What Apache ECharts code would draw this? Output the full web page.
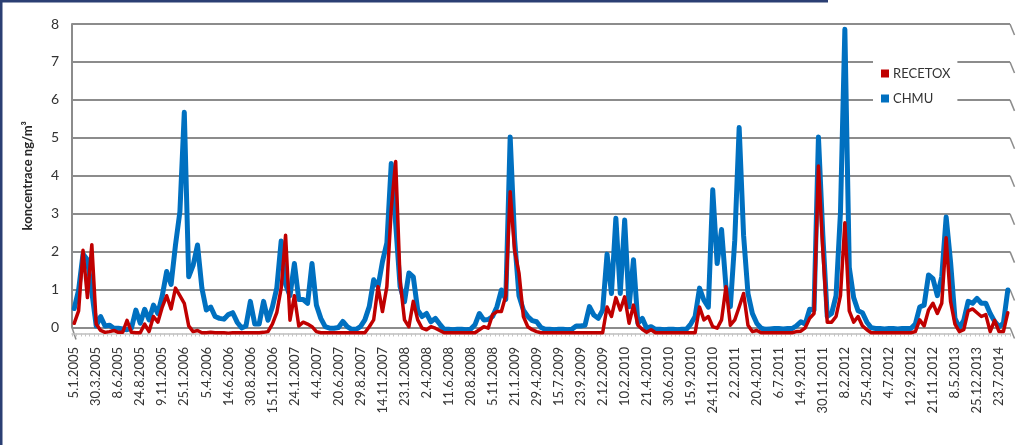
<!DOCTYPE html>
<html>
<head>
<meta charset="utf-8">
<script src="https://cdn.jsdelivr.net/npm/echarts@6/dist/echarts.min.js"></script>
<style>
  html, body { margin: 0; padding: 0; background: #ffffff; }
  #chart { width: 1024px; height: 445px; }
</style>
</head>
<body>
<div id="chart"></div>
<script>
// Tick labels (one every 5 samples on the category axis)
const tickLabels = ['5.1.2005','30.3.2005','8.6.2005','24.8.2005','9.11.2005','25.1.2006','5.4.2006','14.6.2006','30.8.2006','15.11.2006','24.1.2007','4.4.2007','20.6.2007','29.8.2007','14.11.2007','23.1.2008','2.4.2008','11.6.2008','20.8.2008','5.11.2008','21.1.2009','29.4.2009','15.7.2009','23.9.2009','2.12.2009','10.2.2010','21.4.2010','30.6.2010','15.9.2010','24.11.2010','2.2.2011','20.4.2011','6.7.2011','14.9.2011','30.11.2011','8.2.2012','25.4.2012','4.7.2012','12.9.2012','21.11.2012','8.5.2013','25.12.2013','23.7.2014'];

// CHMU concentrations (ng/m3)
const chmu = [
  0.66,1.15,2.1,1.95,1.1,0.2,0.45,0.2,0.22,0.14,
  0.14,0.12,0.1,0.14,0.62,0.27,0.64,0.36,0.75,0.53,
  1.0,1.64,1.3,2.34,3.22,5.85,1.5,1.8,2.34,1.2,
  0.62,0.7,0.45,0.4,0.38,0.5,0.55,0.3,0.15,0.2,
  0.85,0.25,0.25,0.85,0.35,0.7,1.2,2.45,1.3,1.0,
  1.85,0.9,0.9,0.8,1.85,0.75,0.4,0.18,0.14,0.14,
  0.16,0.32,0.18,0.11,0.11,0.18,0.36,0.71,1.42,1.24,
  1.9,2.4,4.5,2.9,1.24,0.84,1.6,1.5,0.62,0.45,
  0.53,0.31,0.4,0.25,0.11,0.11,0.1,0.11,0.11,0.1,
  0.11,0.23,0.53,0.36,0.37,0.45,0.71,1.15,0.9,5.2,
  2.5,1.0,0.62,0.45,0.34,0.31,0.16,0.11,0.11,0.1,
  0.11,0.11,0.1,0.11,0.2,0.2,0.22,0.71,0.49,0.4,
  0.62,2.1,1.06,3.05,1.06,3.0,0.71,1.95,0.27,0.4,
  0.14,0.18,0.11,0.11,0.1,0.11,0.11,0.1,0.11,0.11,
  0.25,0.45,1.2,0.88,0.7,3.8,1.85,2.75,1.24,0.71,
  2.47,5.45,2.6,1.06,0.53,0.27,0.14,0.11,0.12,0.13,
  0.13,0.12,0.13,0.13,0.2,0.31,0.25,0.64,0.62,5.2,
  2.6,0.45,0.53,1.0,3.2,8.05,1.75,0.95,0.6,0.55,
  0.3,0.15,0.13,0.13,0.12,0.13,0.13,0.12,0.13,0.13,
  0.13,0.25,0.7,0.75,1.55,1.45,1.0,1.5,3.08,1.9,
  0.4,0.15,0.35,0.85,0.8,0.93,0.8,0.8,0.53,0.32,
  0.18,0.27,1.15
];

// RECETOX concentrations (ng/m3)
const recetox = [
  0.27,0.6,2.2,0.95,2.35,0.25,0.08,0.03,0.05,0.08,
  0.03,0.03,0.35,0.03,0.02,0.02,0.25,0.05,0.45,0.3,
  0.7,1.0,0.65,1.2,1.0,0.8,0.2,0.05,0.08,0.02,
  0.02,0.03,0.02,0.02,0.02,0.01,0.02,0.02,0.02,0.02,
  0.02,0.02,0.02,0.03,0.05,0.25,0.55,1.2,2.6,0.35,
  1.0,0.2,0.3,0.25,0.18,0.05,0.02,0.02,0.02,0.02,
  0.02,0.02,0.02,0.02,0.02,0.02,0.02,0.18,0.36,1.24,
  0.58,1.24,3.3,4.55,1.4,0.36,0.18,0.85,0.36,0.14,
  0.1,0.18,0.14,0.08,0.02,0.02,0.02,0.02,0.02,0.02,
  0.02,0.02,0.1,0.18,0.14,0.5,0.58,0.58,1.0,3.75,
  2.2,1.6,0.45,0.18,0.1,0.05,0.02,0.02,0.02,0.02,
  0.02,0.02,0.02,0.02,0.02,0.02,0.02,0.02,0.02,0.02,
  0.02,0.7,0.45,0.95,0.62,0.97,0.27,0.75,0.22,0.11,
  0.03,0.1,0.02,0.02,0.02,0.02,0.02,0.02,0.02,0.02,
  0.02,0.02,0.7,0.36,0.45,0.18,0.14,0.36,1.24,0.22,
  0.36,0.7,1.06,0.22,0.05,0.08,0.02,0.02,0.02,0.02,
  0.02,0.02,0.02,0.02,0.05,0.06,0.15,0.4,0.53,4.43,
  2.2,0.3,0.3,0.45,1.0,2.93,0.6,0.3,0.45,0.2,
  0.1,0.02,0.02,0.02,0.02,0.02,0.02,0.02,0.02,0.02,
  0.02,0.05,0.36,0.2,0.62,0.8,0.53,0.8,2.53,0.85,
  0.25,0.05,0.1,0.6,0.65,0.55,0.45,0.5,0.05,0.35,
  0.05,0.05,0.55
];

// Sample numbers used as categories
const categories = chmu.map((_, i) => String(i + 1));
const yTicks = [0,1,2,3,4,5,6,7,8];

const FONT = 'Lato, "Open Sans", "Liberation Sans", sans-serif';
const chart = echarts.init(document.getElementById('chart'), null, { renderer: 'canvas' });

const option = {
  backgroundColor: '#ffffff',
  animation: false,
  textStyle: { fontFamily: FONT },
  legend: {
    orient: 'vertical',
    left: 873, top: 59,
    padding: [8, 7, 8, 8],
    backgroundColor: '#ffffff',
    itemWidth: 8, itemHeight: 8, itemGap: 12,
    icon: 'rect',
    data: ['RECETOX', 'CHMU'],
    textStyle: { fontFamily: FONT, fontSize: 13, color: '#333333', padding: [0,0,0,-1] }
  },
  grid: [
    { left: 72, right: 14, top: 24, bottom: 117.5, outerBoundsMode: 'none', containLabel: false },
    { left: 72, right: 14, top: 31.1, bottom: 111.5, outerBoundsMode: 'none', containLabel: false }
  ],
  xAxis: [
    { type: 'category', gridIndex: 0, data: categories, show: false, boundaryGap: true },
    {
      type: 'category', gridIndex: 1, data: categories, boundaryGap: true, offset: 6.5,
      axisLine: { show: true, lineStyle: { color: '#bfbfbf', width: 1.5 } },
      axisTick: { show: true, interval: 0, length: 3, lineStyle: { color: '#c4c4c4', width: 1 } },
      splitLine: { show: false },
      axisLabel: {
        interval: 4, rotate: 90, margin: 7,
        fontFamily: FONT, fontSize: 13, color: '#333333',
        formatter: (v, idx) => (idx % 5 === 0 ? tickLabels[idx / 5] : '')
      }
    }
  ],
  yAxis: [
    {
      type: 'value', gridIndex: 0, min: yTicks[0], max: yTicks[yTicks.length - 1], interval: 1,
      name: 'koncentrace ng/m³', nameLocation: 'middle', nameGap: 38,
      nameTextStyle: { fontFamily: FONT, fontSize: 13, fontWeight: 'bold', color: '#262626' },
      axisLine: { show: true, lineStyle: { color: '#8c8c8c', width: 2 } },
      axisTick: { show: false },
      axisLabel: { margin: 13, fontFamily: FONT, fontSize: 14, color: '#333333' },
      splitLine: { show: true, lineStyle: { color: '#8c8c8c', width: 2 } }
    },
    {
      type: 'value', gridIndex: 1, min: 0, max: 8, interval: 1, show: false,
      splitLine: { show: false }
    }
  ],
  series: [
    {
      name: 'CHMU', type: 'line', xAxisIndex: 1, yAxisIndex: 1, data: chmu,
      symbol: 'none', clip: false, z: 3,
      itemStyle: { color: '#0070C0' },
      lineStyle: { color: '#0070C0', width: 5, join: 'round', cap: 'round' }
    },
    {
      name: 'RECETOX', type: 'line', xAxisIndex: 1, yAxisIndex: 1, data: recetox,
      symbol: 'none', clip: false, z: 4,
      itemStyle: { color: '#C00000' },
      lineStyle: { color: '#C00000', width: 3.5, join: 'round', cap: 'round' }
    }
  ]
};
chart.setOption(option);

// Decorations: frame and 3D perspective edges of the back wall
const gfx = [
  { type: 'rect', shape: { x: 0, y: 0, width: 2.5, height: 445 }, style: { fill: '#2B3F73' }, silent: true },
  { type: 'rect', shape: { x: 0, y: 0, width: 828, height: 2.5 }, style: { fill: '#2B3F73' }, silent: true }
];
const rightX = chart.convertToPixel({ xAxisIndex: 0 }, categories.length - 1) + 2.2;
yTicks.forEach(v => {
  const y = chart.convertToPixel({ yAxisIndex: 0 }, v);
  gfx.push({ type: 'line', shape: { x1: rightX, y1: y, x2: rightX + 4.5, y2: y + 11 },
    style: { stroke: '#8c8c8c', lineWidth: 1.5 }, silent: true });
});
const y0 = chart.convertToPixel({ yAxisIndex: 0 }, 0);
const leftX = chart.convertToPixel({ xAxisIndex: 0 }, 0) - 2.2;
gfx.push({ type: 'line', shape: { x1: leftX, y1: y0, x2: leftX + 4, y2: y0 + 12 },
  style: { stroke: '#8c8c8c', lineWidth: 1.5 }, silent: true });
chart.setOption({ graphic: gfx });
</script>
</body>
</html>
